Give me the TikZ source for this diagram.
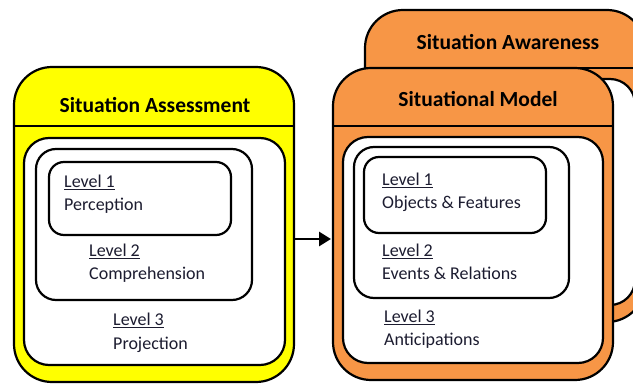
\documentclass[tikz,border=0pt]{standalone}
\usepackage{fontspec}
\setmainfont{Carlito}
\usetikzlibrary{arrows.meta}
\definecolor{saYellow}{HTML}{FFFF00}
\definecolor{smOrange}{HTML}{F79646}
\definecolor{lvText}{HTML}{1C1C30}

\tikzset{
  panel/.style={draw=black, line width=2.2pt, rounded corners=#1,
    inner sep=0pt, outer sep=0pt, anchor=north west},
  divider/.style={draw=black, line width=2pt},
  title/.style={font=\fontsize{21.5}{24}\selectfont\bfseries, text=black,
    inner sep=0pt, anchor=base},
  lvl/.style={font=\fontsize{18}{22}\selectfont, text=lvText,
    inner sep=0pt, anchor=base west},
  flow/.style={draw=black, line width=2.8pt,
    -{Triangle[length=12pt,width=14pt]}, shorten >=2pt},
}

\begin{document}
\begin{tikzpicture}[x=1pt,y=-1pt]
\useasboundingbox (0,0) rectangle (633,385);
\fill[white] (0,0) rectangle (633,385);

\begin{scope}
\clip (0,0) rectangle (633,385);
% rear panel: Situation Awareness
\node[panel=38pt, fill=smOrange, minimum width=280pt, minimum height=312pt]
  (aw) at (365,10) {};
\draw[divider] (aw.west |- 0,68) -- (aw.east |- 0,68);
\node[panel=25pt, fill=white, minimum width=260pt, minimum height=226pt]
  (awIn) at (375,79) {};
\node[title] (awT) at (508,50) {Situation Awareness};
\end{scope}

% left panel: Situation Assessment
\node[panel=38pt, fill=saYellow, minimum width=280pt, minimum height=315pt]
  (sa) at (14,67) {};
\draw[divider] (sa.west |- 0,126) -- (sa.east |- 0,126);
\node[title] (saT) at (155,113) {Situation Assessment};
\node[panel=25pt, fill=white, minimum width=261pt, minimum height=227pt]
  (sa3) at (24,138) {};
\node[panel=20pt, fill=white, minimum width=216pt, minimum height=151pt]
  (sa2) at (36,149) {};
\node[panel=15pt, fill=white, minimum width=182pt, minimum height=73pt]
  (sa1) at (49,162) {};
\node[lvl] (sa1a) at (64,188) {\underline{Level 1}};
\node[lvl] (sa1b) at (64,211) {Perception};
\node[lvl] (sa2a) at (89,257) {\underline{Level 2}};
\node[lvl] (sa2b) at (89,280) {Comprehension};
\node[lvl] (sa3a) at (113,326) {\underline{Level 3}};
\node[lvl] (sa3b) at (113,349) {Projection};

% front panel: Situational Model
\node[panel=38pt, fill=smOrange, minimum width=280pt, minimum height=312pt]
  (sm) at (333,68) {};
\draw[divider] (sm.west |- 0,126) -- (sm.east |- 0,126);
\node[title] (smT) at (478,107) {Situational Model};
\node[panel=25pt, fill=white, minimum width=260pt, minimum height=226pt]
  (sm3) at (343,137) {};
\node[panel=20pt, fill=white, minimum width=215pt, minimum height=151pt]
  (sm2) at (354,147) {};
\node[panel=15pt, fill=white, minimum width=182pt, minimum height=76pt]
  (sm1) at (364,157) {};
\node[lvl] (sm1a) at (382,186) {\underline{Level 1}};
\node[lvl] (sm1b) at (382,209) {Objects \& Features};
\node[lvl] (sm2a) at (382,257) {\underline{Level 2}};
\node[lvl] (sm2b) at (382,280) {Events \& Relations};
\node[lvl] (sm3a) at (384,323) {\underline{Level 3}};
\node[lvl] (sm3b) at (384,345) {Anticipations};

% assessment feeds the model
\draw[flow] (sa.east |- 0,239) -- (sm.west |- 0,239);
\end{tikzpicture}
\end{document}
